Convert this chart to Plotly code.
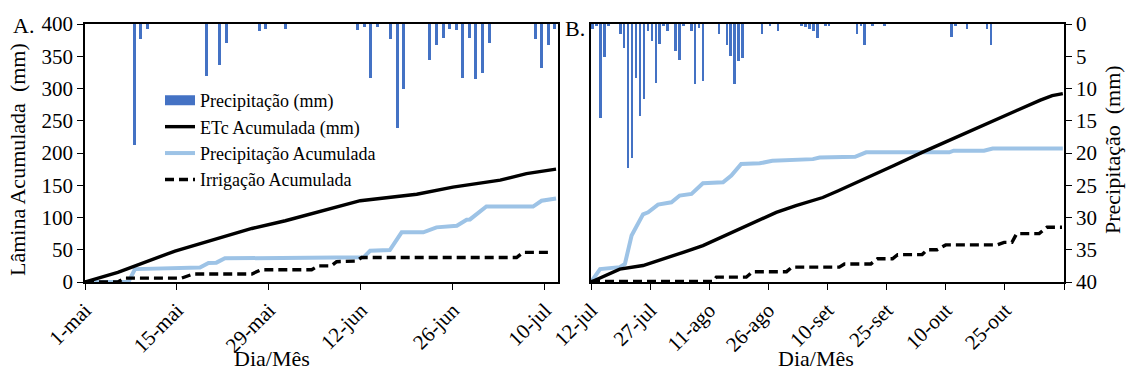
import pandas as pd
import plotly.graph_objects as go

FONT = "Liberation Serif"
BLUE = "#4472C4"
LIGHT = "#9DC3E6"
BLACK = "#000000"

# ---------------- Panel A: 1 May - 12 Jul ----------------
start_a = "2019-05-01"
end_a_day = 72
ticks_a_day = [0, 14, 28, 42, 56, 70]
ticks_a_text = ["1-mai", "15-mai", "29-mai", "12-jun", "26-jun", "10-jul"]

# daily rainfall (day offset from start, mm)
rain_a_day = [7, 8, 9, 18, 20, 21, 26, 27, 30, 41, 42, 43, 44, 46, 47, 48,
              52, 53, 54, 55, 56, 57, 58, 59, 60, 61, 68, 69, 70, 71]
rain_a_mm = [18.8, 2.3, 0.7, 8.0, 6.4, 2.9, 1.1, 0.7, 0.7, 1.0, 0.4, 8.4, 0.4, 2.4, 16.2, 10.0,
             5.6, 3.2, 2.2, 0.7, 1.0, 8.4, 2.2, 8.6, 7.6, 3.0, 2.4, 6.8, 3.2, 0.7]

# accumulated crop evapotranspiration
etc_a_day = [0, 5, 13.7, 25.4, 30.5, 35.8, 41.9, 50.5, 56, 63.2, 67.2, 71.7]
etc_a_mm = [0, 15, 48, 83, 95, 110, 126, 136, 147, 158, 168, 175]

# accumulated rainfall
pcum_a_day = [0, 6.6, 7.6, 17.5, 18.8, 20, 21.3, 42.4, 43.4, 46.4, 48.2, 51.5,
              53.5, 56.6, 58.1, 58.6, 61.1, 68.2, 69.5, 71.7]
pcum_a_mm = [0, 0, 20, 22.5, 29.5, 30, 36.7, 38.2, 48.5, 49.5, 77, 77,
             84.7, 87.3, 96.6, 97, 117, 117, 126, 129.6]

# accumulated irrigation
irr_a_day = [0, 5, 6, 14.7, 16.5, 25.4, 26.8, 34.5, 35.5, 37.5, 38.3, 41.3,
             42.1, 65.7, 66.7, 70.8]
irr_a_mm = [0, 0, 6, 6, 12.5, 12.5, 19, 19, 25, 25, 31.5, 32.5,
            38, 38, 46, 46]

# ---------------- Panel B: 12 Jul - 9 Nov ----------------
start_b = "2019-07-12"
end_b_day = 120
ticks_b_day = [0, 15, 30, 45, 60, 75, 90, 105, 120]
ticks_b_text = ["12-jul", "27-jul", "11-ago", "26-ago", "10-set", "25-set", "10-out", "25-out", ""]

rain_b_day = [0, 1, 2, 3, 4, 7, 8, 9, 10, 11, 12, 13, 14, 15, 16, 17, 18, 19,
              21, 22, 23, 25, 26, 27, 28, 32, 34, 35, 36, 37, 38, 43, 45, 47,
              53, 54, 55, 56, 57, 59, 60, 67, 68, 69, 71, 74, 91, 92, 95, 100, 101]
rain_b_mm = [0.7, 0.3, 14.6, 5.1, 0.2, 1.6, 3.7, 22.4, 20.8, 8.3, 14.3, 11.6, 1.1, 2.6, 9.1, 3.1, 0.2, 1.1,
             4.2, 5.6, 0.2, 1.1, 9.3, 0.6, 8.8, 1.6, 3.2, 4.9, 9.3, 5.8, 5.2, 1.6, 0.2, 1.1,
             0.3, 0.5, 0.7, 1.1, 2.1, 0.3, 0.3, 1.6, 0.3, 3.2, 0.2, 0.2, 2.0, 0.3, 0.7, 0.7, 3.2]

etc_b_day = [0, 2.3, 7.3, 13.2, 16.6, 23.4, 28.4, 35.2, 39.4, 42.8, 47, 52, 58.8,
             62.6, 70, 77, 84, 92, 100.2, 108, 114, 117, 119.7]
etc_b_mm = [0, 6.5, 20, 25.5, 32, 46, 56.5, 75.5, 87.5, 96, 108, 118.5, 131,
            141, 161, 181, 201, 223, 245, 266, 282, 289, 292]

pcum_b_day = [0, 2.3, 7.3, 8.6, 10.3, 13.2, 14.5, 17, 20.4, 22.5, 25.5, 26.8, 28.4,
              33.5, 35.6, 38.1, 42.8, 46, 56.3, 58, 67, 69.8, 90.9, 92, 99.7, 101.9, 119.7]
pcum_b_mm = [0, 20, 23, 28, 72, 105, 108, 120, 123.5, 134, 136.5, 144, 153,
             154.5, 165, 183, 184, 188, 190.5, 193, 194, 201, 201, 203.5, 203.5, 207, 207]

irr_b_day = [0, 31, 31.8, 39.4, 41, 49.6, 51, 63, 64.3, 71, 72.7, 76.5, 77.8, 84,
             85.3, 87.8, 90, 103, 104.8, 106.8, 108, 113.7, 115.7, 119.5]
irr_b_mm = [1, 1, 7.5, 7.5, 16, 16, 23, 23, 28, 28, 36, 36, 42.5, 42.5,
            50, 50, 57.5, 57.5, 61.5, 61.5, 75, 75, 85, 85]


def dates(start, days):
    return pd.Timestamp(start) + pd.to_timedelta(pd.Series(days, dtype=float), unit="D")


DAY_MS = 86400000

fig = go.Figure()

line_styles = {
    "etc": dict(color=BLACK, width=3.4),
    "pcum": dict(color=LIGHT, width=4),
    "irr": dict(color=BLACK, width=3.4, dash="9px,5px"),
}

# legend entries
fig.add_trace(go.Scatter(x=[None], y=[None], mode="lines", name="Precipitação (mm)",
                         line=dict(color=BLUE, width=11), xaxis="x", yaxis="y"))
fig.add_trace(go.Scatter(x=[None], y=[None], mode="lines", name="ETc Acumulada (mm)",
                         line=line_styles["etc"], xaxis="x", yaxis="y"))
fig.add_trace(go.Scatter(x=[None], y=[None], mode="lines", name="Precipitação Acumulada",
                         line=line_styles["pcum"], xaxis="x", yaxis="y"))
fig.add_trace(go.Scatter(x=[None], y=[None], mode="lines", name="Irrigação Acumulada",
                         line=line_styles["irr"], xaxis="x", yaxis="y"))

panels = [
    ("x", "y", "y2", start_a, rain_a_day, rain_a_mm,
     (etc_a_day, etc_a_mm), (pcum_a_day, pcum_a_mm), (irr_a_day, irr_a_mm), 0.46),
    ("x2", "y3", "y4", start_b, rain_b_day, rain_b_mm,
     (etc_b_day, etc_b_mm), (pcum_b_day, pcum_b_mm), (irr_b_day, irr_b_mm), 0.5),
]

for xa, ya, yb, start, rd, rmm, etc, pcum, irr, bw in panels:
    fig.add_trace(go.Bar(x=dates(start, rd), y=rmm, xaxis=xa, yaxis=yb,
                         marker=dict(color=BLUE, line=dict(width=0)),
                         width=bw * DAY_MS, xperiod=DAY_MS, xperiodalignment="middle",
                         showlegend=False, hoverinfo="skip"))
    for key, (d, v) in (("pcum", pcum), ("etc", etc), ("irr", irr)):
        fig.add_trace(go.Scatter(x=dates(start, d), y=v, mode="lines", xaxis=xa, yaxis=ya,
                                 line=line_styles[key], showlegend=False))

W, H = 1132, 382
TOP, BOTTOM = 24, 100
ax_a = [85 / W, 558 / W]
ax_b = [591 / W, 1064 / W]
tickfont = dict(family=FONT, size=21, color=BLACK)

common_x = dict(type="date", showgrid=False, zeroline=False, showline=True, linecolor=BLACK,
                linewidth=1.5, mirror=True, ticks="outside", ticklen=6, tickcolor=BLACK,
                tickwidth=1.3, tickangle=-45, tickfont=tickfont, automargin=False)
common_y = dict(showgrid=False, zeroline=False, showline=True, linecolor=BLACK, linewidth=1.5,
                mirror=True, tickfont=tickfont, automargin=False, domain=[0, 1])


def rng(start, n):
    s = pd.Timestamp(start)
    return [s, s + pd.Timedelta(days=n)]


fig.update_layout(
    width=W, height=H,
    margin=dict(l=0, r=0, t=TOP, b=BOTTOM),
    paper_bgcolor="white", plot_bgcolor="white",
    bargap=0,
    xaxis=dict(common_x, domain=ax_a, anchor="y", range=rng(start_a, end_a_day),
               tickvals=list(dates(start_a, ticks_a_day)), ticktext=ticks_a_text),
    xaxis2=dict(common_x, domain=ax_b, anchor="y3", range=rng(start_b, end_b_day),
                tickvals=list(dates(start_b, ticks_b_day)), ticktext=ticks_b_text),
    yaxis=dict(common_y, anchor="x", range=[0, 400], dtick=50, ticks="outside",
               ticklen=6, tickcolor=BLACK, tickwidth=1.3),
    yaxis2=dict(overlaying="y", anchor="x", range=[40, 0], visible=False),
    yaxis3=dict(common_y, anchor="x2", range=[0, 400], showticklabels=False, ticks=""),
    yaxis4=dict(overlaying="y3", anchor="x2", side="right", range=[40, 0], dtick=5,
                showgrid=False, zeroline=False, showline=True, linecolor=BLACK, linewidth=1.5,
                ticks="outside", ticklen=6, tickcolor=BLACK, tickwidth=1.3,
                tickfont=tickfont, automargin=False),
    legend=dict(x=160 / W, y=0.775, xanchor="left", yanchor="top",
                bgcolor="rgba(0,0,0,0)", borderwidth=0, tracegroupgap=0,
                font=dict(family=FONT, size=18, color=BLACK)),
    font=dict(family=FONT, color=BLACK),
)


def py(px):
    # pixel row -> paper y
    return (H - BOTTOM - px) / (H - TOP - BOTTOM)


text_font = dict(family=FONT, size=22, color=BLACK)
annos = [
    dict(text="Lâmina Acumulada  (mm)", x=17 / W, y=py(160), textangle=-90),
    dict(text="Precipitação  (mm)", x=1112 / W, y=py(150), textangle=-90),
    dict(text="Dia/Mês", x=272 / W, y=py(358)),
    dict(text="Dia/Mês", x=816 / W, y=py(358)),
    dict(text="A.", x=23 / W, y=py(25)),
    dict(text="B.", x=575 / W, y=py(28)),
]
for a in annos:
    fig.add_annotation(xref="paper", yref="paper", showarrow=False, font=text_font,
                       xanchor="center", yanchor="middle", **a)

fig.write_html("out.html")
